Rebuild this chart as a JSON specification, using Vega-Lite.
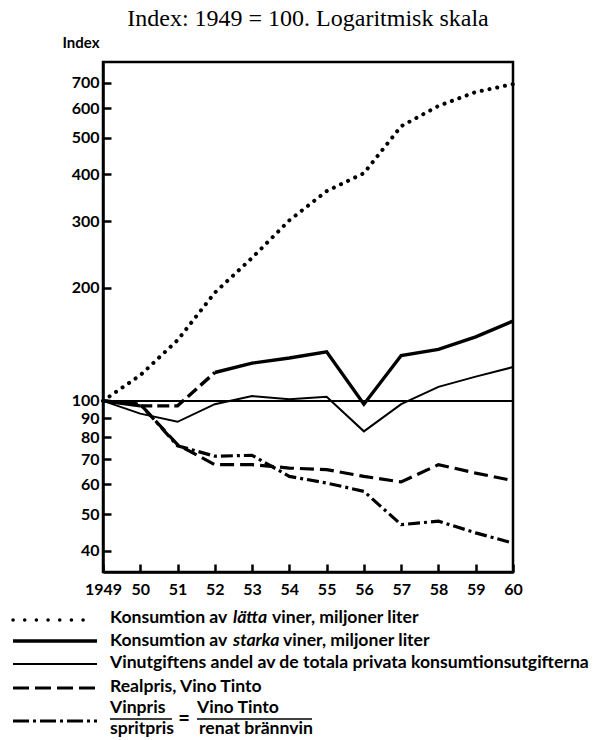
{
  "$schema": "https://vega.github.io/schema/vega-lite/v6.json",
  "background": "white",
  "padding": {"left": 11, "top": 5, "right": 0, "bottom": 0},
  "spacing": 1,
  "config": {
    "font": "Lato",
    "text": {"font": "Lato", "fontWeight": "bold", "fontSize": 17.6, "color": "black"},
    "axisY": {"labelOverlap": false}
  },
  "vconcat": [
    {
      "width": 410,
      "height": 510,
      "title": {"text": "Index: 1949 = 100. Logaritmisk skala", "font": "Liberation Serif", "fontSize": 24, "fontWeight": "normal", "color": "black", "anchor": "middle", "offset": 4},
      "view": {"stroke": "black", "strokeWidth": 2.5},
      "data": {"values": [
        {"year": 1949, "series": "latta", "value": 100},
        {"year": 1950, "series": "latta", "value": 117},
        {"year": 1951, "series": "latta", "value": 145},
        {"year": 1952, "series": "latta", "value": 194},
        {"year": 1953, "series": "latta", "value": 240},
        {"year": 1954, "series": "latta", "value": 302},
        {"year": 1955, "series": "latta", "value": 361},
        {"year": 1956, "series": "latta", "value": 403},
        {"year": 1957, "series": "latta", "value": 537},
        {"year": 1958, "series": "latta", "value": 608},
        {"year": 1959, "series": "latta", "value": 662},
        {"year": 1960, "series": "latta", "value": 695},
        {"year": 1949, "series": "starka", "value": 100},
        {"year": 1950, "series": "starka", "value": 97},
        {"year": 1951, "series": "starka", "value": 97},
        {"year": 1952, "series": "starka", "value": 119},
        {"year": 1953, "series": "starka", "value": 126},
        {"year": 1954, "series": "starka", "value": 130},
        {"year": 1955, "series": "starka", "value": 135},
        {"year": 1956, "series": "starka", "value": 98},
        {"year": 1957, "series": "starka", "value": 132},
        {"year": 1958, "series": "starka", "value": 137},
        {"year": 1959, "series": "starka", "value": 148},
        {"year": 1960, "series": "starka", "value": 163},
        {"year": 1949, "series": "andel", "value": 100},
        {"year": 1950, "series": "andel", "value": 92.5},
        {"year": 1951, "series": "andel", "value": 88},
        {"year": 1952, "series": "andel", "value": 98},
        {"year": 1953, "series": "andel", "value": 103},
        {"year": 1954, "series": "andel", "value": 101},
        {"year": 1955, "series": "andel", "value": 102.5},
        {"year": 1956, "series": "andel", "value": 83},
        {"year": 1957, "series": "andel", "value": 98},
        {"year": 1958, "series": "andel", "value": 109},
        {"year": 1959, "series": "andel", "value": 116},
        {"year": 1960, "series": "andel", "value": 123},
        {"year": 1949, "series": "realpris", "value": 100},
        {"year": 1950, "series": "realpris", "value": 98},
        {"year": 1951, "series": "realpris", "value": 76.5},
        {"year": 1952, "series": "realpris", "value": 67.7},
        {"year": 1953, "series": "realpris", "value": 67.7},
        {"year": 1954, "series": "realpris", "value": 66.3},
        {"year": 1955, "series": "realpris", "value": 65.7},
        {"year": 1956, "series": "realpris", "value": 63},
        {"year": 1957, "series": "realpris", "value": 60.9},
        {"year": 1958, "series": "realpris", "value": 67.7},
        {"year": 1959, "series": "realpris", "value": 64.3},
        {"year": 1960, "series": "realpris", "value": 61.4},
        {"year": 1949, "series": "vinpris", "value": 100},
        {"year": 1950, "series": "vinpris", "value": 98},
        {"year": 1951, "series": "vinpris", "value": 76},
        {"year": 1952, "series": "vinpris", "value": 71.3},
        {"year": 1953, "series": "vinpris", "value": 71.7},
        {"year": 1954, "series": "vinpris", "value": 63},
        {"year": 1955, "series": "vinpris", "value": 60.5},
        {"year": 1956, "series": "vinpris", "value": 57.5},
        {"year": 1957, "series": "vinpris", "value": 46.9},
        {"year": 1958, "series": "vinpris", "value": 47.9},
        {"year": 1959, "series": "vinpris", "value": 44.6},
        {"year": 1960, "series": "vinpris", "value": 41.9}
      ]},
      "layer": [
        {
          "transform": [{"filter": "datum.series == 'andel'"}],
          "mark": {"type": "line", "color": "black", "strokeWidth": 2},
          "encoding": {
            "x": {"field": "year", "type": "ordinal",
              "scale": {"type": "point", "padding": 0},
              "axis": {
                "labelExpr": "datum.value == 1949 ? '1949' : format(datum.value - 1900, 'd')",
                "title": null, "grid": false, "tickSize": -8, "tickWidth": 2.5, "tickColor": "black",
                "domainColor": "black", "domainWidth": 2.5, "labelFont": "Lato", "labelFontSize": 16,
                "labelFontWeight": "bold", "labelColor": "black", "labelPadding": 17, "labelAngle": 0, "labelOverlap": false}},
            "y": {"field": "value", "type": "quantitative",
              "scale": {"type": "log", "domain": [35.1, 795.6], "nice": false},
              "axis": {"values": [40,50,60,70,80,90,100,200,300,400,500,600,700], "format": "d",
                "title": "Index", "titleAngle": 0, "titleAlign": "left", "titleBaseline": "alphabetic",
                "titleX": -41, "titleY": -15, "titleFont": "Lato", "titleFontSize": 15, "titleFontWeight": "bold", "titleColor": "black",
                "grid": false, "tickSize": -8, "tickWidth": 2.5, "tickColor": "black",
                "domainColor": "black", "domainWidth": 2.5, "labelFont": "Lato", "labelFontSize": 16,
                "labelFontWeight": "bold", "labelColor": "black", "labelPadding": 12, "labelOverlap": false}}
          }
        },
        {
          "mark": {"type": "rule", "color": "black", "strokeWidth": 1.5},
          "encoding": {"y": {"datum": 100}}
        },
        {
          "transform": [{"filter": "datum.series == 'latta'"}],
          "mark": {"type": "line", "color": "black", "strokeWidth": 4, "strokeDash": [0.1, 7.8], "strokeCap": "round"},
          "encoding": {"x": {"field": "year", "type": "ordinal"}, "y": {"field": "value", "type": "quantitative"}}
        },
        {
          "transform": [{"filter": "datum.series == 'starka' && datum.year <= 1950"}],
          "mark": {"type": "line", "color": "black", "strokeWidth": 3.4},
          "encoding": {"x": {"field": "year", "type": "ordinal"}, "y": {"field": "value", "type": "quantitative"}}
        },
        {
          "transform": [{"filter": "datum.series == 'starka' && datum.year >= 1950 && datum.year <= 1952"}],
          "mark": {"type": "line", "color": "black", "strokeWidth": 3.4, "strokeDash": [12, 5]},
          "encoding": {"x": {"field": "year", "type": "ordinal"}, "y": {"field": "value", "type": "quantitative"}}
        },
        {
          "transform": [{"filter": "datum.series == 'starka' && datum.year >= 1952"}],
          "mark": {"type": "line", "color": "black", "strokeWidth": 3.4, "strokeJoin": "miter"},
          "encoding": {"x": {"field": "year", "type": "ordinal"}, "y": {"field": "value", "type": "quantitative"}}
        },
        {
          "transform": [{"filter": "datum.series == 'realpris'"}],
          "mark": {"type": "line", "color": "black", "strokeWidth": 3.2, "strokeDash": [14, 6]},
          "encoding": {"x": {"field": "year", "type": "ordinal"}, "y": {"field": "value", "type": "quantitative"}}
        },
        {
          "transform": [{"filter": "datum.series == 'vinpris'"}],
          "mark": {"type": "line", "color": "black", "strokeWidth": 3.2, "strokeDash": [12, 4, 3, 4]},
          "encoding": {"x": {"field": "year", "type": "ordinal"}, "y": {"field": "value", "type": "quantitative"}}
        }
      ]
    },
    {
      "width": 494,
      "height": 140,
      "view": {"stroke": null},
      "data": {"values": [{}]},
      "layer": [
        {"mark": {"type": "rule", "color": "black", "strokeWidth": 3.5, "strokeDash": [0.1, 11.57], "strokeCap": "round"},
         "encoding": {"x": {"datum": 13, "type": "quantitative", "scale": {"domain": [103, 597], "nice": false, "zero": false}, "axis": null},
                      "x2": {"datum": 94}, "y": {"datum": 620, "type": "quantitative", "scale": {"domain": [600, 740], "reverse": true, "nice": false, "zero": false}, "axis": null}}},
        {"mark": {"type": "rule", "color": "black", "strokeWidth": 3.4},
         "encoding": {"x": {"datum": 13}, "x2": {"datum": 97}, "y": {"datum": 641}}},
        {"mark": {"type": "rule", "color": "black", "strokeWidth": 1.8},
         "encoding": {"x": {"datum": 13}, "x2": {"datum": 97}, "y": {"datum": 664}}},
        {"mark": {"type": "rule", "color": "black", "strokeWidth": 3, "strokeDash": [16, 6]},
         "encoding": {"x": {"datum": 13}, "x2": {"datum": 97}, "y": {"datum": 688}}},
        {"mark": {"type": "rule", "color": "black", "strokeWidth": 3, "strokeDash": [16, 4, 3, 4]},
         "encoding": {"x": {"datum": 13}, "x2": {"datum": 97}, "y": {"datum": 721}}},
        {"mark": {"type": "text", "align": "left", "baseline": "middle"},
         "encoding": {"x": {"datum": 110}, "y": {"datum": 618}, "text": {"value": "Konsumtion av"}}},
        {"mark": {"type": "text", "align": "left", "baseline": "middle", "fontStyle": "italic"},
         "encoding": {"x": {"datum": 233}, "y": {"datum": 618}, "text": {"value": "lätta"}}},
        {"mark": {"type": "text", "align": "left", "baseline": "middle"},
         "encoding": {"x": {"datum": 272}, "y": {"datum": 618}, "text": {"value": "viner, miljoner liter"}}},
        {"mark": {"type": "text", "align": "left", "baseline": "middle"},
         "encoding": {"x": {"datum": 110}, "y": {"datum": 641}, "text": {"value": "Konsumtion av"}}},
        {"mark": {"type": "text", "align": "left", "baseline": "middle", "fontStyle": "italic"},
         "encoding": {"x": {"datum": 233}, "y": {"datum": 641}, "text": {"value": "starka"}}},
        {"mark": {"type": "text", "align": "left", "baseline": "middle"},
         "encoding": {"x": {"datum": 283}, "y": {"datum": 641}, "text": {"value": "viner, miljoner liter"}}},
        {"mark": {"type": "text", "align": "left", "baseline": "middle"},
         "encoding": {"x": {"datum": 110}, "y": {"datum": 663}, "text": {"value": "Vinutgiftens andel av de totala privata konsumtionsutgifterna"}}},
        {"mark": {"type": "text", "align": "left", "baseline": "middle"},
         "encoding": {"x": {"datum": 110}, "y": {"datum": 687}, "text": {"value": "Realpris, Vino Tinto"}}},
        {"mark": {"type": "text", "align": "left", "baseline": "middle"},
         "encoding": {"x": {"datum": 110}, "y": {"datum": 708}, "text": {"value": "Vinpris"}}},
        {"mark": {"type": "text", "align": "left", "baseline": "middle"},
         "encoding": {"x": {"datum": 110}, "y": {"datum": 729}, "text": {"value": "spritpris"}}},
        {"mark": {"type": "rule", "color": "black", "strokeWidth": 1.5},
         "encoding": {"x": {"datum": 110}, "x2": {"datum": 172}, "y": {"datum": 719}}},
        {"mark": {"type": "text", "align": "center", "baseline": "middle", "fontSize": 20},
         "encoding": {"x": {"datum": 184}, "y": {"datum": 719}, "text": {"value": "="}}},
        {"mark": {"type": "text", "align": "left", "baseline": "middle"},
         "encoding": {"x": {"datum": 197}, "y": {"datum": 708}, "text": {"value": "Vino Tinto"}}},
        {"mark": {"type": "rule", "color": "black", "strokeWidth": 1.5},
         "encoding": {"x": {"datum": 197}, "x2": {"datum": 312}, "y": {"datum": 719}}},
        {"mark": {"type": "text", "align": "left", "baseline": "middle"},
         "encoding": {"x": {"datum": 199}, "y": {"datum": 729}, "text": {"value": "renat brännvin"}}}
      ]
    }
  ]
}
